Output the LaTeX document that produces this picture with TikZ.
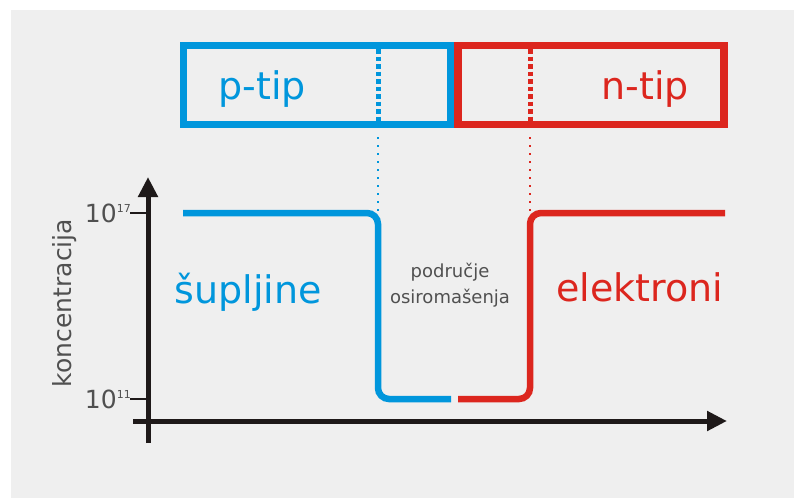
\documentclass[tikz,border=0pt]{standalone}
\usepackage{fontspec}
\setmainfont{DejaVu Sans}
\usepackage{tikz}
\usetikzlibrary{positioning}
\usetikzlibrary{arrows.meta}

\definecolor{pblue}{RGB}{0,150,220}
\definecolor{nred}{RGB}{220,38,30}
\definecolor{bggray}{RGB}{239,239,239}
\definecolor{txtgray}{RGB}{80,80,80}
\definecolor{axisblack}{RGB}{30,25,25}

\tikzset{
  region/.style={draw, line width=7.5pt, minimum height=79pt, inner sep=0pt},
  big/.style={inner sep=0pt, font=\fontsize{38}{40}\selectfont},
  small/.style={inner sep=0pt, text=txtgray, align=center, font=\fontsize{18}{26}\selectfont},
  axislbl/.style={inner sep=0pt, text=txtgray, font=\fontsize{25}{28}\selectfont},
  curve/.style={line width=6.5pt, rounded corners=11pt},
  junction/.style={line width=5pt, dash pattern=on 4.5pt off 3pt},
  guide/.style={line width=1.5pt, dash pattern=on 2pt off 6pt},
  axis/.style={draw=axisblack, line width=5pt, -{Triangle[length=20pt,width=19pt]}},
  tick/.style={draw=axisblack, line width=1.5pt}
}

\begin{document}
\begin{tikzpicture}[x=1pt, y=-1pt]

    \useasboundingbox (0,0) rectangle (794,498);
    \fill[bggray] (11,10) rectangle (794,498);

    % Define nodes
    \node[region, draw=pblue, minimum width=267pt] (pbox) at (317,85) {};
    \node[region, draw=nred, minimum width=266pt]  (nbox) at (591,85) {};
    \node[big, text=pblue] (ptip) at (262,89.5) {p-tip};
    \node[big, text=nred]  (ntip) at (645,89.5) {n-tip};
    \node[big, text=pblue] (holes) at (248,292) {šupljine};
    \node[big, text=nred]  (electrons) at (640,287) {elektroni};
    \node[small] (depl) at (450,285) {područje\\osiromašenja};
    \node[axislbl, rotate=90] (conc) at (65,303) {koncentracija};
    \node[axislbl, anchor=base east] (hilbl) at (131,222) {10\raisebox{10pt}{\fontsize{11}{11}\selectfont 17}};
    \node[axislbl, anchor=base east] (lolbl) at (131,408) {10\raisebox{10pt}{\fontsize{11}{11}\selectfont 11}};

    % Define coordinates
    \coordinate (ybot) at (148,443);
    \coordinate (ytop) at (148,177);
    \coordinate (xleft) at (133,421);
    \coordinate (xright) at (727,421);
    \coordinate (hi) at (148,213);
    \coordinate (lo) at (148,399);
    \coordinate (pjn) at (378,213);
    \coordinate (njn) at (530,213);

    % Axes
    \draw[axis] (ybot) -- (ytop);
    \draw[axis] (xleft) -- (xright);
    \draw[tick] (130,213) -- (hi);
    \draw[tick] (130,399) -- (lo);

    % Junction lines
    \draw[junction, pblue] (pjn |- 0,49) -- (pjn |- 0,121);
    \draw[junction, nred]  (njn |- 0,49) -- (njn |- 0,121);
    \draw[guide, pblue] (pjn |- 0,137) -- (pjn);
    \draw[guide, nred]  (njn |- 0,137) -- (njn);

    % Concentration curves
    \draw[curve, pblue] (183,213) -- (pjn) -- (pjn |- lo) -- (451,399);
    \draw[curve, nred]  (458,399) -- (njn |- lo) -- (njn) -- (725,213);

\end{tikzpicture}
\end{document}
